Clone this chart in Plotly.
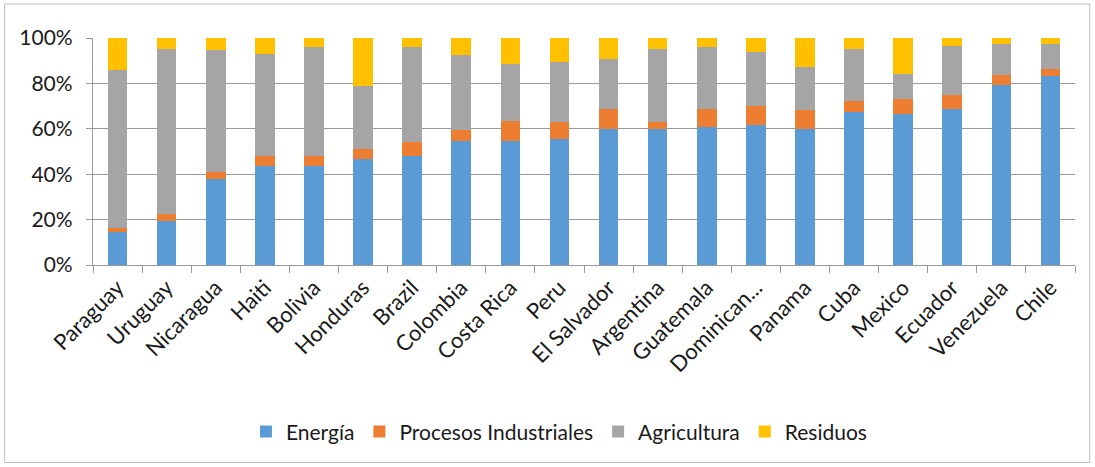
import plotly.graph_objects as go

countries = ["Paraguay", "Uruguay", "Nicaragua", "Haiti", "Bolivia", "Honduras", "Brazil",
             "Colombia", "Costa Rica", "Peru", "El Salvador", "Argentina", "Guatemala",
             "Dominican...", "Panama", "Cuba", "Mexico", "Ecuador", "Venezuela", "Chile"]

energia = [14.7, 19.4, 38.1, 43.7, 43.7, 46.6, 47.9, 54.5, 54.5, 55.7, 60.1, 60.1, 60.9,
           61.6, 60.1, 67.2, 66.7, 68.9, 79.5, 83.1]
procesos = [1.4, 3.0, 3.0, 4.2, 4.2, 4.3, 6.1, 4.9, 9.0, 7.3, 8.5, 2.9, 7.7,
            8.5, 8.1, 4.9, 6.3, 6.2, 4.1, 3.4]
agricultura = [69.7, 72.9, 53.5, 45.2, 48.1, 27.8, 42.0, 33.0, 25.2, 26.4, 22.3, 32.3, 27.4,
               23.7, 19.0, 22.9, 11.3, 21.4, 13.6, 10.7]
residuos = [14.2, 4.7, 5.4, 6.9, 4.0, 21.3, 4.0, 7.6, 11.3, 10.6, 9.1, 4.7, 4.0,
            6.2, 12.8, 5.0, 15.7, 3.5, 2.8, 2.8]

series = [("Energía", energia, "#5B9BD5"),
          ("Procesos Industriales", procesos, "#ED7D31"),
          ("Agricultura", agricultura, "#A5A5A5"),
          ("Residuos", residuos, "#FFC000")]

fig = go.Figure()
for name, vals, col in series:
    fig.add_trace(go.Bar(x=countries, y=[v / 100 for v in vals], name=name,
                         marker=dict(color=col, line=dict(width=0))))

font = "Lato, 'Open Sans', sans-serif"
fig.update_layout(
    barmode="stack",
    bargap=0.6,
    width=1095, height=467,
    margin=dict(l=93, r=20, t=38, b=202),
    paper_bgcolor="white", plot_bgcolor="white",
    font=dict(family=font, size=18, color="#1a1a1a"),
    legend=dict(orientation="h", x=0.475, xanchor="center", y=-0.735, yanchor="middle",
                font=dict(size=21), itemwidth=30, traceorder="normal"),
    yaxis=dict(range=[0, 1], tickformat=".0%", dtick=0.2, showgrid=True,
               gridcolor="#9A9A9A", gridwidth=1.3, showline=True, linecolor="#9A9A9A",
               linewidth=1.3, ticks="outside", ticklen=6, tickcolor="#9A9A9A",
               ticklabelstandoff=9, tickfont=dict(size=21), zeroline=False),
    xaxis=dict(tickangle=-45, tickson="boundaries", ticks="outside", ticklen=7,
               tickcolor="#9A9A9A", showline=True, linecolor="#9A9A9A", linewidth=1.3,
               tickfont=dict(size=22)),
    shapes=[dict(type="rect", xref="paper", yref="paper",
                 x0=-0.09, x1=1.015, y0=-0.87, y1=1.15,
                 line=dict(color="#BDBDBD", width=1))],
)

fig.write_html("out.html")
